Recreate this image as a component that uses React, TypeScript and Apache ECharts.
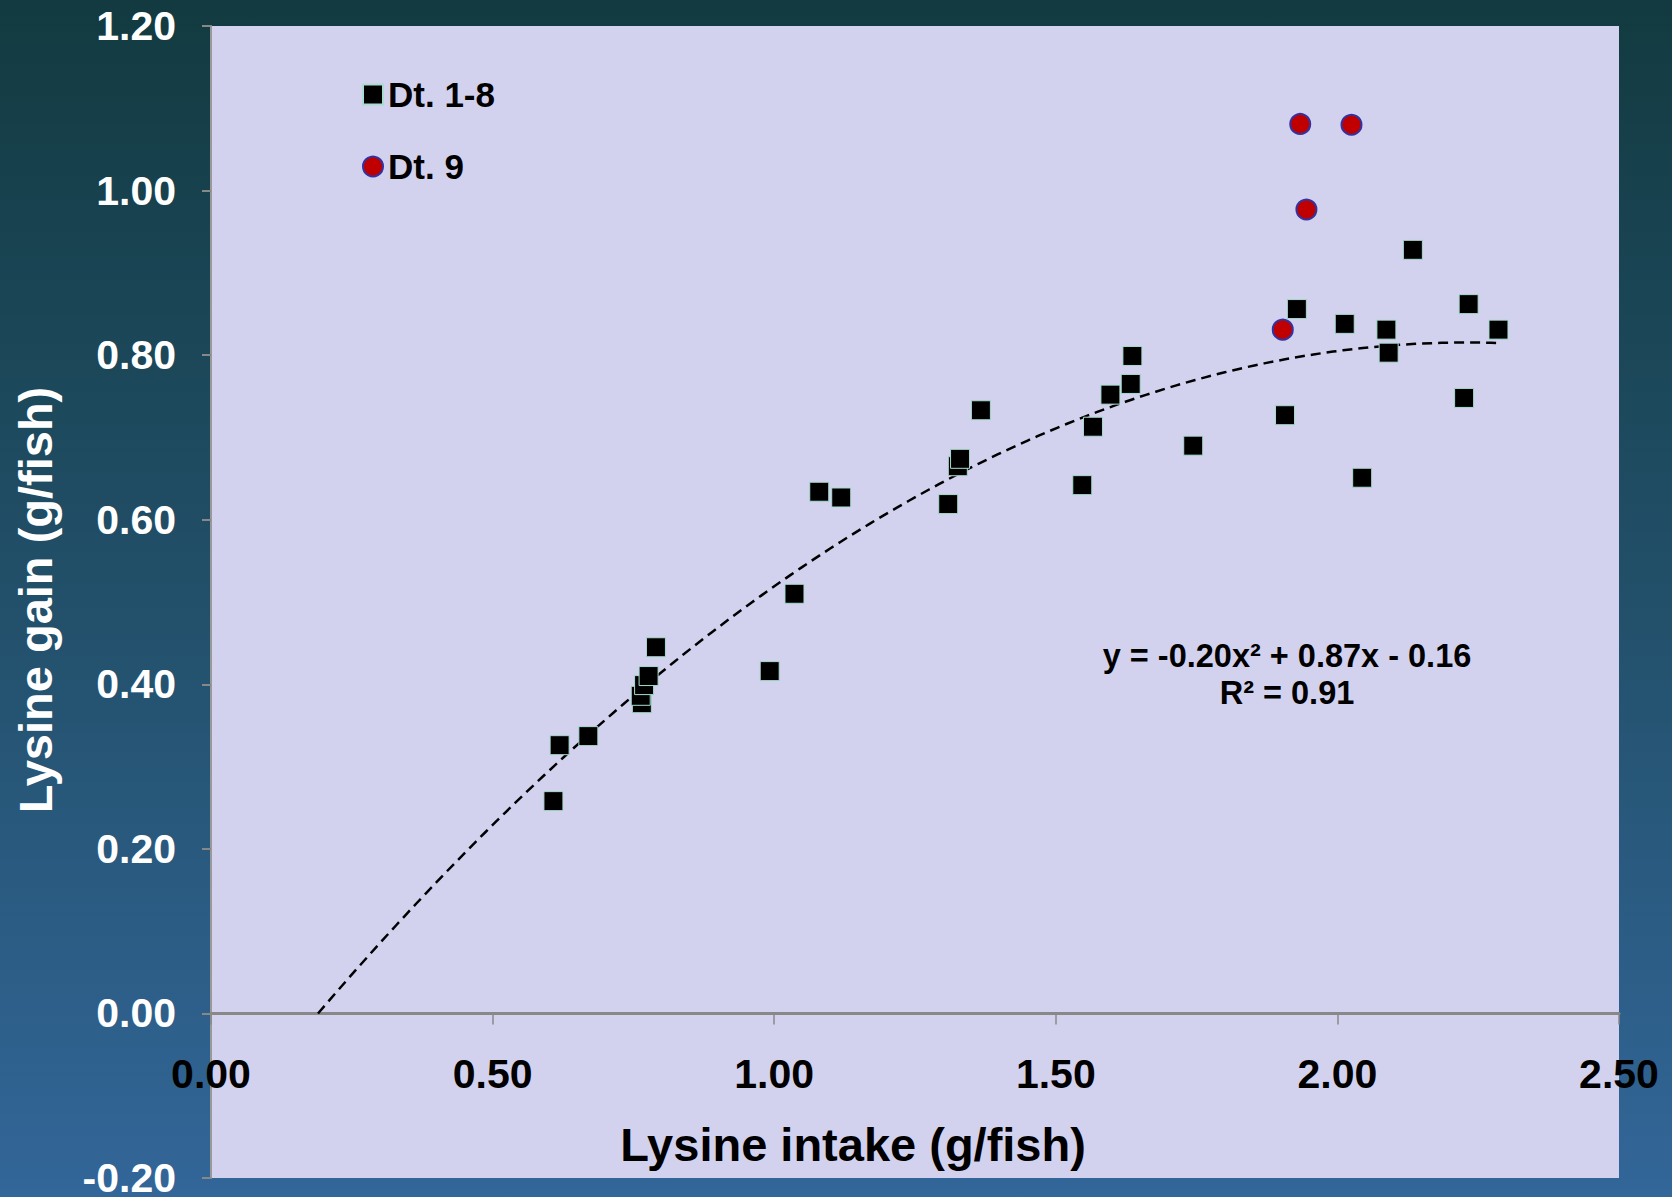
import React, { useEffect, useRef } from "react";
import * as echarts from "echarts";

const FONT = "'Liberation Sans', Arial, sans-serif";

// Dt. 1-8 (black squares)
const dt18X = [0.608, 0.619, 0.67, 0.765, 0.763, 0.769, 0.777, 0.79, 0.992, 1.036, 1.08, 1.119, 1.309, 1.326, 1.33, 1.367, 1.547, 1.566, 1.597, 1.633, 1.636, 1.744, 1.907, 1.928, 2.013, 2.044, 2.087, 2.091, 2.134, 2.225, 2.233, 2.286];
const dt18Y = [0.258, 0.326, 0.337, 0.377, 0.386, 0.399, 0.41, 0.445, 0.416, 0.51, 0.634, 0.627, 0.619, 0.665, 0.674, 0.733, 0.642, 0.713, 0.752, 0.765, 0.799, 0.69, 0.727, 0.856, 0.838, 0.651, 0.831, 0.803, 0.928, 0.748, 0.862, 0.831];

// Dt. 9 (red circles)
const dt9X = [1.934, 2.025, 1.945, 1.903];
const dt9Y = [1.081, 1.08, 0.977, 0.831];

// Polynomial trendline coefficients (y = a x^2 + b x + c), drawn between xStart and xEnd
const trendA = -0.196;
const trendB = 0.874;
const trendC = -0.159;
const trendXStart = 0.19;
const trendXEnd = 2.29;

const xTicks = [0, 0.5, 1.0, 1.5, 2.0, 2.5];
const yTicks = [-0.2, 0, 0.2, 0.4, 0.6, 0.8, 1.0, 1.2];

const equationText = "y = -0.20x² + 0.87x - 0.16";
const r2Text = "R² = 0.91";

const W = 1672;
const H = 1197;
const GRID_TOP = 26;
const GRID_BOTTOM = 19;

export default function App() {
  const ref = useRef<HTMLDivElement>(null);
  useEffect(() => {
    document.body.style.margin = "0";
    if (!ref.current) return;
    const chart = echarts.init(ref.current, null, { renderer: "svg" });

    const trend: number[][] = [];
    const steps = 120;
    for (let i = 0; i <= steps; i++) {
      const x = trendXStart + ((trendXEnd - trendXStart) * i) / steps;
      trend.push([x, trendA * x * x + trendB * x + trendC]);
    }

    const yMin = yTicks[0];
    const yMax = yTicks[yTicks.length - 1];
    const gridH = H - GRID_TOP - GRID_BOTTOM;
    // move x axis (line, ticks, labels) up to y = 0
    const xAxisOffset = -gridH * (0 - yMin) / (yMax - yMin);

    const option: any = {
      animation: false,
      backgroundColor: new echarts.graphic.LinearGradient(0, 0, 0, 1, [
        { offset: 0, color: "#123a40" },
        { offset: 0.5, color: "#22506a" },
        { offset: 1, color: "#336699" },
      ]),
      grid: {
        left: 211,
        right: 53,
        top: GRID_TOP,
        bottom: GRID_BOTTOM,
        show: true,
        backgroundColor: "#d2d2ef",
        borderWidth: 0,
        containLabel: false,
        outerBoundsMode: "none",
      },
      legend: {
        data: ["Dt. 1-8", "Dt. 9"],
        orient: "vertical",
        left: 357,
        top: 72,
        itemWidth: 20,
        itemHeight: 20,
        itemGap: 37,
        textStyle: {
          color: "#000",
          fontWeight: "bold",
          fontSize: 35,
          fontFamily: FONT,
          lineHeight: 33,
        },
      },
      xAxis: {
        type: "value",
        position: "bottom",
        offset: xAxisOffset,
        min: xTicks[0],
        max: xTicks[xTicks.length - 1],
        interval: 0.5,
        axisLine: { show: true, onZero: false, lineStyle: { color: "#888", width: 3 } },
        axisTick: { show: true, length: 11, lineStyle: { color: "#888", width: 1.5 } },
        axisLabel: {
          margin: 40,
          color: "#000",
          fontWeight: "bold",
          fontSize: 41,
          fontFamily: FONT,
          formatter: (v: number) => v.toFixed(2),
        },
        splitLine: { show: false },
      },
      yAxis: {
        type: "value",
        min: yMin,
        max: yMax,
        interval: 0.2,
        axisLine: { show: true, onZero: false, lineStyle: { color: "#999", width: 2 } },
        axisTick: { show: true, length: 9, lineStyle: { color: "#888", width: 2 } },
        axisLabel: {
          margin: 35,
          color: "#fff",
          fontWeight: "bold",
          fontSize: 41,
          fontFamily: FONT,
          formatter: (v: number) => v.toFixed(2),
        },
        splitLine: { show: false },
      },
      graphic: [
        {
          type: "text",
          x: 853,
          y: 1144,
          style: {
            text: "Lysine intake (g/fish)",
            fill: "#000",
            font: `bold 47px ${FONT}`,
            align: "center",
            verticalAlign: "middle",
          },
        },
        {
          type: "text",
          x: 35,
          y: 600,
          rotation: Math.PI / 2,
          style: {
            text: "Lysine gain (g/fish)",
            fill: "#fff",
            font: `bold 47px ${FONT}`,
            align: "center",
            verticalAlign: "middle",
          },
        },
        {
          type: "text",
          x: 1287,
          y: 656,
          style: {
            text: equationText,
            fill: "#000",
            font: `bold 32.5px ${FONT}`,
            align: "center",
            verticalAlign: "middle",
          },
        },
        {
          type: "text",
          x: 1287,
          y: 693,
          style: {
            text: r2Text,
            fill: "#000",
            font: `bold 32.5px ${FONT}`,
            align: "center",
            verticalAlign: "middle",
          },
        },
      ],
      series: [
        {
          name: "Trend",
          type: "line",
          data: trend,
          showSymbol: false,
          symbol: "none",
          z: 1,
          lineStyle: { color: "#000", width: 2.5, type: [10, 6] },
        },
        {
          name: "Dt. 1-8",
          type: "scatter",
          symbol: "rect",
          symbolSize: 19,
          z: 3,
          data: dt18X.map((x, i) => [x, dt18Y[i]]),
          itemStyle: { color: "#000", borderColor: "#a8dcd0", borderWidth: 1, opacity: 1 },
        },
        {
          name: "Dt. 9",
          type: "scatter",
          symbol: "circle",
          symbolSize: 20,
          z: 4,
          data: dt9X.map((x, i) => [x, dt9Y[i]]),
          itemStyle: { color: "#c00000", borderColor: "#3333a0", borderWidth: 2, opacity: 1 },
        },
      ],
    };
    chart.setOption(option);
    return () => chart.dispose();
  }, []);
  return <div ref={ref} style={{ width: W, height: H }} />;
}
